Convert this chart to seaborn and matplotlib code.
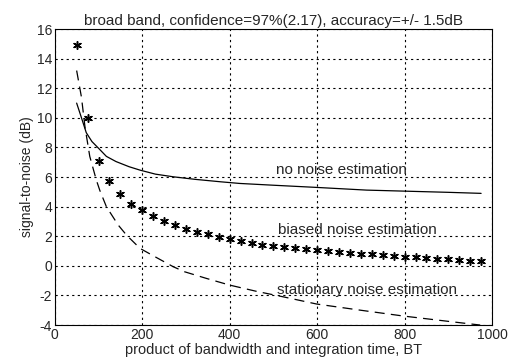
import matplotlib
matplotlib.use("Agg")
import matplotlib.pyplot as plt
import seaborn as sns
import pandas as pd

# solid: no noise estimation
no_noise_x = [50, 60, 72, 85, 100, 118, 140, 170, 195, 230, 271, 320, 380, 423, 500, 600, 713, 800, 900, 975]
no_noise_y = [11.0, 10.1, 9.0, 8.4, 7.95, 7.4, 7.05, 6.7, 6.47, 6.2, 6.02, 5.85, 5.68, 5.57, 5.45, 5.3, 5.12, 5.05, 4.97, 4.9]

# dashed: stationary noise estimation
stat_x = [50, 61, 69, 80, 95, 103, 118, 145, 164, 195, 229, 271, 297, 347, 400, 461, 522, 599, 700, 797, 900, 973]
stat_y = [13.2, 11.4, 9.4, 7.4, 5.8, 5.1, 4.0, 2.76, 2.08, 1.18, 0.62, -0.06, -0.4, -0.85, -1.3, -1.72, -2.09, -2.58, -3.0, -3.39, -3.75, -4.0]

# stars: biased noise estimation
biased_x = [50, 75, 100, 125, 150, 175, 200, 225, 250, 275, 300, 325, 350, 375, 400, 425, 450, 475,
            500, 525, 550, 575, 600, 625, 650, 675, 700, 725, 750, 775, 800, 825, 850, 875, 900, 925, 950, 975]
biased_y = [14.9, 10.0, 7.1, 5.75, 4.85, 4.2, 3.75, 3.35, 3.05, 2.75, 2.5, 2.3, 2.12, 1.95, 1.8, 1.68, 1.56, 1.42,
            1.32, 1.28, 1.2, 1.13, 1.07, 1.0, 0.95, 0.88, 0.82, 0.77, 0.72, 0.67, 0.62, 0.58, 0.53, 0.48, 0.44, 0.4, 0.35, 0.3]

x_ticks = [0, 200, 400, 600, 800, 1000]
y_ticks = [-4, -2, 0, 2, 4, 6, 8, 10, 12, 14, 16]

sns.set_style("white")
plt.rcParams['font.family'] = ['Liberation Sans', 'DejaVu Sans']
plt.rcParams['axes.unicode_minus'] = False

fig = plt.figure(figsize=(5.12, 3.64), dpi=100)
ax = fig.add_axes([0.107, 0.107, 0.854, 0.813])

sns.lineplot(x=no_noise_x, y=no_noise_y, ax=ax, color='black', linewidth=0.9, linestyle='-')
sns.lineplot(x=stat_x, y=stat_y, ax=ax, color='black', linewidth=0.9, linestyle=(0, (8, 5)))
sns.scatterplot(x=biased_x, y=biased_y, ax=ax, color='black', marker=(6, 2, 0), s=30, linewidth=1.1)

ax.set_xlim(0, 1000)
ax.set_ylim(-4, 16)
ax.set_xticks(x_ticks)
ax.set_yticks(y_ticks)
ax.grid(True, color='black', linestyle=(0, (2, 3)), linewidth=0.8)
for s in ax.spines.values():
    s.set_color('black')
    s.set_linewidth(0.8)
ax.tick_params(axis='both', labelsize=10, direction='in', length=3, color='black', pad=2)

ax.set_title("broad band, confidence=97%(2.17), accuracy=+/- 1.5dB", fontsize=11, pad=3)
ax.set_xlabel("product of bandwidth and integration time, BT", fontsize=10.5, labelpad=1)
ax.set_ylabel("signal-to-noise (dB)", fontsize=10, labelpad=2)

ax.text(655, 6.5, "no noise estimation", fontsize=11, ha='center', va='center')
ax.text(691, 2.4, "biased noise estimation", fontsize=11, ha='center', va='center')
ax.text(714, -1.6, "stationary noise estimation", fontsize=11, ha='center', va='center')

fig.savefig("out.png", dpi=100)
